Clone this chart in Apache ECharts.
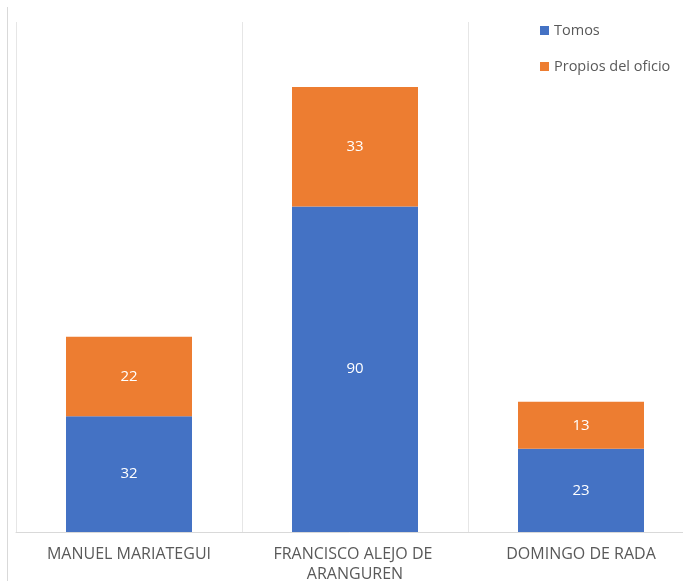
<!DOCTYPE html>
<html>
<head>
<meta charset="utf-8">
<script src="https://cdn.jsdelivr.net/npm/echarts@6/dist/echarts.min.js"></script>
<style>
html,body{margin:0;padding:0;background:#fff;}
#c{width:683px;height:581px;}
</style>
</head>
<body>
<div id="c"></div>
<script>
const categories = ['MANUEL MARIATEGUI', 'FRANCISCO ALEJO DE ARANGUREN', 'DOMINGO DE RADA'];
const tomos = [32, 90, 23];
const propios = [22, 33, 13];
const seriesNames = ['Tomos', 'Propios del oficio'];

const FONT = 'Open Sans';
const chart = echarts.init(document.getElementById('c'), null, {renderer: 'canvas'});
chart.setOption({
  animation: false,
  backgroundColor: '#fff',
  textStyle: {fontFamily: FONT},
  graphic: [{
    type: 'line',
    shape: {x1: 7.5, y1: 7, x2: 7.5, y2: 581},
    style: {stroke: '#d9d9d9', lineWidth: 1}
  }],
  legend: {
    orient: 'vertical',
    left: 535,
    top: 18,
    itemWidth: 9,
    itemHeight: 9,
    itemGap: 21,
    icon: 'rect',
    textStyle: {fontFamily: FONT, fontSize: 14.5, color: '#595959'},
    data: seriesNames
  },
  grid: {left: 16, width: 678, top: 22, height: 510, containLabel: false, outerBoundsMode: 'none'},
  xAxis: {
    type: 'category',
    data: categories,
    axisLine: {show: true, lineStyle: {color: '#d9d9d9'}},
    axisTick: {show: false},
    splitLine: {show: true, lineStyle: {color: '#e6e6e6'}},
    axisLabel: {
      fontFamily: FONT, fontSize: 16, color: '#595959',
      margin: 12, width: 200, overflow: 'break', lineHeight: 20,
      interval: 0
    }
  },
  yAxis: {
    type: 'value', min: 0, max: 141,
    show: false,
    splitLine: {show: false}
  },
  series: [
    {
      name: seriesNames[0], type: 'bar', stack: 'a', data: tomos, barWidth: 126,
      itemStyle: {color: '#4472C4'},
      label: {show: true, position: 'inside', color: '#fff', fontFamily: FONT, fontSize: 15}
    },
    {
      name: seriesNames[1], type: 'bar', stack: 'a', data: propios, barWidth: 126,
      itemStyle: {color: '#ED7D31'},
      label: {show: true, position: 'inside', color: '#fff', fontFamily: FONT, fontSize: 15}
    }
  ]
});
</script>
</body>
</html>
